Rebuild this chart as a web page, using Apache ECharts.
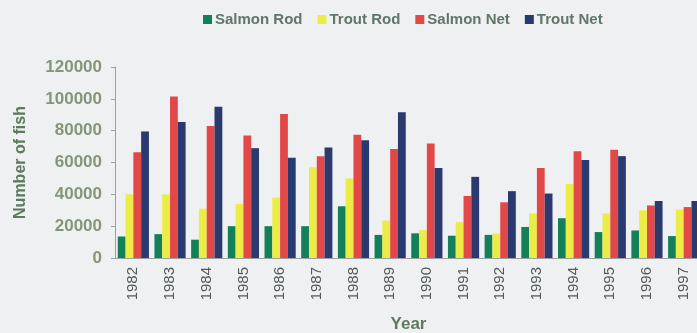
<!DOCTYPE html>
<html><head><meta charset="utf-8">
<script src="https://cdn.jsdelivr.net/npm/echarts@6/dist/echarts.min.js"></script>
<style>html,body{margin:0;padding:0;background:#eef0f2}#c{width:697px;height:333px}</style>
</head><body><div id="c"></div>
<script>
var years = ['1982','1983','1984','1985','1986','1987','1988','1989','1990','1991','1992','1993','1994','1995','1996','1997'];
var salmonRod = [13500,15000,11500,20000,20000,20000,32500,14500,15500,14000,14500,19500,25000,16300,17300,13800];
var troutRod  = [40000,40000,31000,34000,38000,57000,50000,23500,17500,22500,15300,28000,46500,28000,30000,30400];
var salmonNet = [66500,101500,83000,77000,90500,64000,77500,68500,72000,39000,35000,56500,67000,68000,33000,32000];
var troutNet  = [79500,85500,95000,69000,63000,69500,74000,91500,56500,51000,42000,40500,61500,64000,35800,35800];
var yTicks = [0,20000,40000,60000,80000,100000,120000];

var chart = echarts.init(document.getElementById('c'));
var F = 'Liberation Sans, Arial, sans-serif';
function s(name, data, color){
  return {name:name, type:'bar', data:data, barGap:'0%', barCategoryGap:'15%',
    itemStyle:{color:color}};
}
chart.setOption({
  backgroundColor:'#eef0f2',
  animation:false,
  legend:{left:198, top:7, itemWidth:9, itemHeight:9, itemGap:15,
    textStyle:{fontFamily:F, fontSize:15, fontWeight:'bold', color:'#5f7768', padding:[0,0,0,-2]},
    icon:'rect', data:['Salmon Rod','Trout Rod','Salmon Net','Trout Net']},
  grid:{left:115, right:-5, top:67, bottom:75, containLabel:false, outerBoundsMode:'none'},
  xAxis:{type:'category', data:years, name:'Year', nameLocation:'middle', nameGap:58, nameMoveOverlap:false,
    nameTextStyle:{fontFamily:F, fontSize:17, fontWeight:'bold', color:'#5c7a5c'},
    axisLine:{lineStyle:{color:'#9aa0a0'}}, axisTick:{length:3, lineStyle:{color:'#9aa0a0'}},
    axisLabel:{rotate:90, margin:9, fontFamily:F, fontSize:15, color:'#535a56'}},
  yAxis:{type:'value', min:0, max:120000, interval:20000, name:'Number of fish',
    nameLocation:'middle', nameGap:86, nameRotate:90, nameMoveOverlap:false,
    nameTextStyle:{fontFamily:F, fontSize:16, fontWeight:'bold', color:'#5c7a5c'},
    axisLine:{show:true, lineStyle:{color:'#9aa0a0'}}, axisTick:{show:true, length:4, lineStyle:{color:'#9aa0a0'}},
    splitLine:{show:false},
    axisLabel:{margin:13, fontFamily:F, fontSize:17, fontWeight:'bold', color:'#86957a',
      formatter:function(v){return yTicks.indexOf(v)>=0 ? String(v) : '';}}},
  series:[
    s('Salmon Rod', salmonRod, '#14805a'),
    s('Trout Rod', troutRod, '#ecec46'),
    s('Salmon Net', salmonNet, '#e24848'),
    s('Trout Net', troutNet, '#2a3a6e')
  ]
});
</script></body></html>
